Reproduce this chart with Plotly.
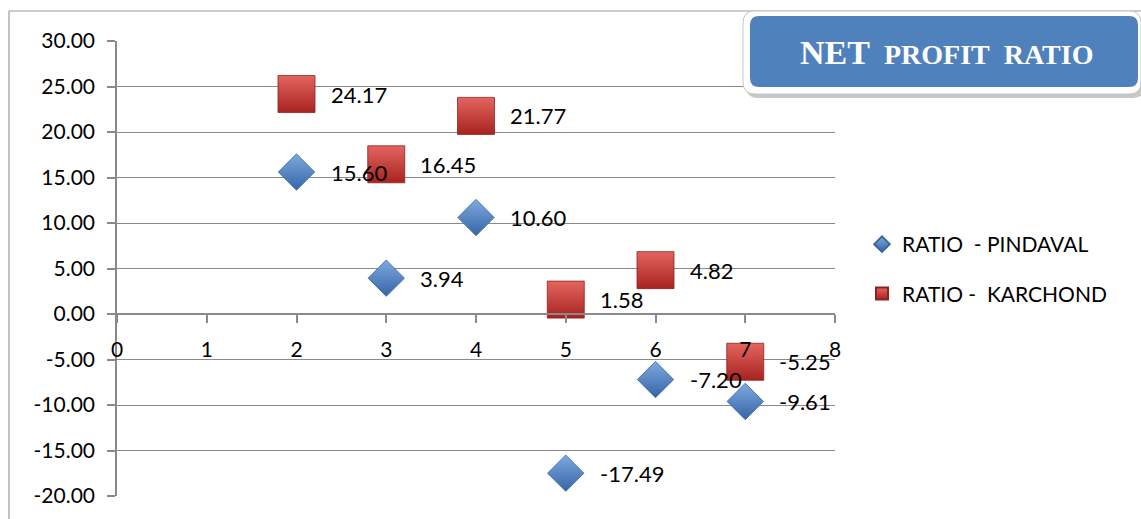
import plotly.graph_objects as go

# Net profit ratio by year index
years = [2, 3, 4, 5, 6, 7]
pindaval = [15.60, 3.94, 10.60, -17.49, -7.20, -9.61]
karchond = [24.17, 16.45, 21.77, 1.58, 4.82, -5.25]

y_ticks = [30, 25, 20, 15, 10, 5, 0, -5, -10, -15, -20]
y_tick_text = [f"{v:.2f}".replace("\u2212", "-") for v in y_ticks]
x_ticks = list(range(0, 9))

W, H = 1141, 519
ML, MR, MT, MB = 117, 306, 41, 23
PW, PH = W - ML - MR, H - MT - MB
FONT = "Lato, Open Sans, sans-serif"
GRID = "#8a8a8a"


def px(x):
    return (x - ML) / PW


def py(y):
    return (H - MB - y) / PH


def round_rect(x0, y0, x1, y1, r):
    """Rounded rectangle path given in pixel coordinates, returned in paper units."""
    pts = [
        f"M {px(x0 + r)},{py(y0)}",
        f"L {px(x1 - r)},{py(y0)}",
        f"Q {px(x1)},{py(y0)} {px(x1)},{py(y0 + r)}",
        f"L {px(x1)},{py(y1 - r)}",
        f"Q {px(x1)},{py(y1)} {px(x1 - r)},{py(y1)}",
        f"L {px(x0 + r)},{py(y1)}",
        f"Q {px(x0)},{py(y1)} {px(x0)},{py(y1 - r)}",
        f"L {px(x0)},{py(y0 + r)}",
        f"Q {px(x0)},{py(y0)} {px(x0 + r)},{py(y0)}",
        "Z",
    ]
    return " ".join(pts)


fig = go.Figure()

fig.add_trace(go.Scatter(
    x=years, y=pindaval, mode="markers", name="RATIO  - PINDAVAL",
    legendgroup="a",
    marker=dict(symbol="diamond", size=28, color="#7fa9de",
                gradient=dict(type="vertical", color="#3565a8"),
                line=dict(color="#3a64a0", width=0.8)),
))
fig.add_trace(go.Scatter(
    x=years, y=karchond, mode="markers", name="RATIO -  KARCHOND",
    legendgroup="b",
    marker=dict(symbol="square", size=37, color="#e36560",
                gradient=dict(type="vertical", color="#a82320"),
                line=dict(color="#8e2220", width=0.8)),
))

annotations = []
for xs, ys in ((years, pindaval), (years, karchond)):
    for xv, yv in zip(xs, ys):
        annotations.append(dict(
            x=xv, y=yv, xref="x", yref="y", text=f"{yv:.2f}",
            showarrow=False, xanchor="left", yanchor="middle", xshift=32,
            font=dict(family=FONT, size=22, color="#000000"),
        ))

# Title box
annotations.append(dict(
    x=px(946), y=py(52), xref="paper", yref="paper", showarrow=False,
    xanchor="center", yanchor="middle",
    text="<b><span style='font-size:34px'>NET</span>&nbsp;&nbsp;"
         "<span style='font-size:28px'>PROFIT&nbsp;&nbsp;RATIO</span></b>",
    font=dict(family="Liberation Serif, DejaVu Serif, serif", size=28, color="#ffffff"),
))

shapes = [
    # outer chart border
    dict(type="line", xref="paper", yref="paper", x0=px(9), x1=px(9), y0=py(11), y1=py(H + 5),
         line=dict(color="#9a9a9a", width=1.2)),
    dict(type="line", xref="paper", yref="paper", x0=px(9), x1=px(W + 5), y0=py(11), y1=py(11),
         line=dict(color="#9a9a9a", width=1.2)),
    # title box: shadow, white frame, blue panel
    dict(type="path", xref="paper", yref="paper", path=round_rect(746, 15, 1145, 98, 12),
         fillcolor="rgba(0,0,0,0.22)", line=dict(width=0)),
    dict(type="path", xref="paper", yref="paper", path=round_rect(743, 11, 1141, 94, 12),
         fillcolor="#ffffff", line=dict(color="#c8c8c8", width=1)),
    dict(type="path", xref="paper", yref="paper", path=round_rect(750, 16, 1138, 87, 9),
         fillcolor="#4f81bd", line=dict(width=0)),
]

fig.update_layout(
    width=W, height=H,
    margin=dict(l=ML, r=MR, t=MT, b=MB),
    paper_bgcolor="#ffffff", plot_bgcolor="#ffffff",
    font=dict(family=FONT, size=21, color="#000000"),
    showlegend=True,
    legend=dict(
        x=px(862), y=py(224), xanchor="left", yanchor="top",
        font=dict(family=FONT, size=21, color="#000000"),
        tracegroupgap=19, itemsizing="constant",
        bgcolor="rgba(0,0,0,0)",
    ),
    xaxis=dict(
        range=[0, 8], tickvals=x_ticks, ticktext=[str(v) for v in x_ticks],
        showgrid=False, zeroline=False, showline=True, linecolor=GRID, linewidth=1.5,
        ticks="outside", ticklen=8, tickcolor=GRID, tickwidth=1.5,
        anchor="free", position=py(314),
        ticklabelstandoff=9,
        tickfont=dict(family=FONT, size=21, color="#000000"),
        fixedrange=True,
    ),
    yaxis=dict(
        range=[-20, 30], tickvals=y_ticks, ticktext=y_tick_text,
        showgrid=True, gridcolor=GRID, gridwidth=1.2,
        zeroline=False, showline=True, linecolor=GRID, linewidth=1.5,
        ticks="outside", ticklen=8, tickcolor=GRID, tickwidth=1.5,
        ticklabelstandoff=8,
        tickfont=dict(family=FONT, size=21, color="#000000"),
        fixedrange=True,
    ),
    annotations=annotations,
    shapes=shapes,
)

fig.write_html("out.html")
